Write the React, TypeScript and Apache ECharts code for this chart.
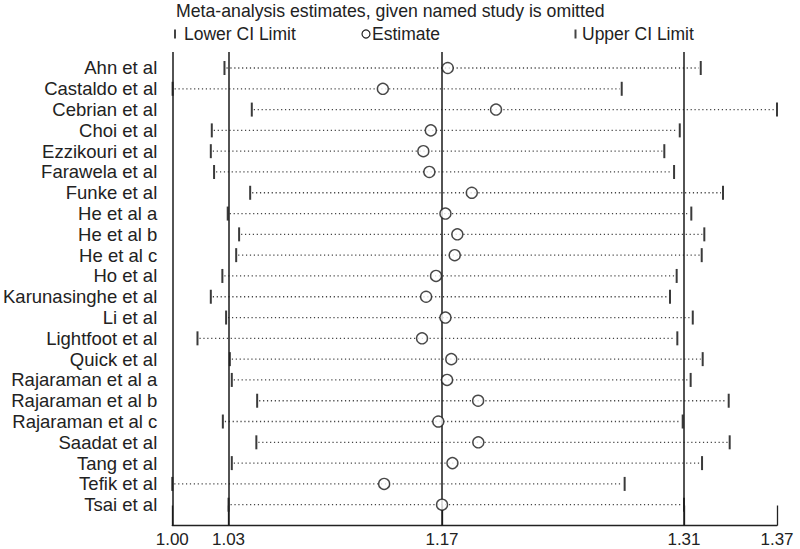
import React, { useEffect, useRef } from "react";
import * as echarts from "echarts";

const studies = [
  "Ahn et al", "Castaldo et al", "Cebrian et al", "Choi et al", "Ezzikouri et al",
  "Farawela et al", "Funke et al", "He et al a", "He et al b", "He et al c",
  "Ho et al", "Karunasinghe et al", "Li et al", "Lightfoot et al", "Quick et al",
  "Rajaraman et al a", "Rajaraman et al b", "Rajaraman et al c", "Saadat et al",
  "Tang et al", "Tefik et al", "Tsai et al",
];

const lowerCI = [
  1.0317, 0.9998, 1.0485, 1.0239, 1.0233, 1.0253, 1.0475, 1.0337, 1.0407, 1.0389,
  1.0304, 1.0233, 1.0327, 1.0151, 1.0350, 1.0362, 1.0518, 1.0307, 1.0513, 1.0362,
  0.9996, 1.0342,
];

const estimates = [
  1.1690, 1.1291, 1.1987, 1.1586, 1.1540, 1.1577, 1.1838, 1.1676, 1.1749, 1.1733,
  1.1618, 1.1557, 1.1676, 1.1532, 1.1712, 1.1686, 1.1877, 1.1632, 1.1878, 1.1719,
  1.1299, 1.1655,
];

const upperCI = [
  1.3246, 1.2760, 1.3715, 1.3117, 1.3022, 1.3082, 1.3383, 1.3188, 1.3268, 1.3252,
  1.3098, 1.3057, 1.3197, 1.3102, 1.3258, 1.3184, 1.3418, 1.3135, 1.3424, 1.3254,
  1.2778, 1.3143,
];

// overall: min lower, overall lower CI, overall estimate, overall upper CI, max upper
const tickValues = [0.9996, 1.0342, 1.1655, 1.3143, 1.3715];
const tickLabels = ["1.00", "1.03", "1.17", "1.31", "1.37"];
const refLines = [0.9996, 1.0342, 1.1655, 1.3143];

const titleText = "Meta-analysis estimates, given named study is omitted";
const legendLabels = ["Lower CI Limit", "Estimate", "Upper CI Limit"];

const FONT = "'Liberation Sans', Arial, Helvetica, sans-serif";
const TXT = "#222";

export default function App() {
  const ref = useRef<HTMLDivElement>(null);

  useEffect(() => {
    document.body.style.margin = "0";
    if (!ref.current) return;
    const chart = echarts.init(ref.current, null, { renderer: "svg" });

    const ciData = studies.map((_, i) => [lowerCI[i], upperCI[i], i]);
    const estData = studies.map((_, i) => [estimates[i], i]);

    const option: any = {
      animation: false,
      backgroundColor: "#fff",
      textStyle: { fontFamily: FONT },
      grid: { left: 172, right: 23, top: 47.2, bottom: 23.5, containLabel: false },
      xAxis: {
        type: "value",
        position: "bottom",
        min: tickValues[0],
        max: tickValues[tickValues.length - 1],
        splitLine: { show: false },
        axisLine: { show: true, onZero: false, lineStyle: { color: "#222", width: 1.3 } },
        axisTick: {
          show: true,
          inside: true,
          length: 20,
          customValues: tickValues,
          lineStyle: { color: "#222", width: 1.3 },
        },
        axisLabel: {
          customValues: tickValues,
          formatter: (v: number) => {
            const k = tickValues.findIndex((t) => Math.abs(t - v) < 1e-6);
            return k >= 0 ? tickLabels[k] : "";
          },
          fontSize: 17,
          color: TXT,
          fontFamily: FONT,
          margin: 5,
          showMinLabel: true,
          showMaxLabel: true,
        },
      },
      yAxis: {
        type: "value",
        inverse: true,
        min: -1,
        max: 22,
        interval: 1,
        splitLine: { show: false },
        axisLine: { show: false, onZero: false },
        axisTick: { show: false },
        axisLabel: {
          formatter: (v: number) => (v >= 0 && v < studies.length ? studies[v] : ""),
          fontSize: 18.5,
          color: TXT,
          fontFamily: FONT,
          margin: 15,
        },
      },
      series: [
        {
          type: "custom",
          name: "ci",
          data: ciData,
          encode: { x: [0, 1], y: 2 },
          z: 2,
          renderItem: (params: any, api: any) => {
            const lo = api.coord([api.value(0), api.value(2)]);
            const hi = api.coord([api.value(1), api.value(2)]);
            return {
              type: "group",
              children: [
                {
                  type: "line",
                  shape: { x1: lo[0] + 2, y1: lo[1], x2: hi[0] - 2, y2: hi[1] },
                  style: { stroke: "#444", lineWidth: 1.3, lineDash: [1.2, 2.7] },
                },
                {
                  type: "rect",
                  shape: { x: lo[0] - 1, y: lo[1] - 7, width: 2, height: 14 },
                  style: { fill: "#3a3a3a" },
                },
                {
                  type: "rect",
                  shape: { x: hi[0] - 1, y: hi[1] - 7, width: 2, height: 14 },
                  style: { fill: "#3a3a3a" },
                },
              ],
            };
          },
        },
        {
          type: "scatter",
          name: "Estimate",
          data: estData,
          symbol: "circle",
          symbolSize: 11,
          z: 4,
          itemStyle: { color: "#fff", borderColor: "#1a1a1a", borderWidth: 1.4 },
          markLine: {
            silent: true,
            symbol: "none",
            z: 3,
            label: { show: false },
            lineStyle: { color: "#1a1a1a", width: 1.5, type: "solid" },
            data: refLines.map((v) => [{ coord: [v, -0.77] }, { coord: [v, 22] }]),
          },
        },
      ],
      graphic: [
        {
          type: "text",
          left: 176,
          top: 2,
          style: { text: titleText, font: `17.7px ${FONT}`, fill: TXT },
        },
        {
          type: "rect",
          shape: { x: 174, y: 29.5, width: 2, height: 9 },
          style: { fill: "#444" },
        },
        {
          type: "text",
          left: 184,
          top: 25,
          style: { text: legendLabels[0], font: `17.5px ${FONT}`, fill: TXT },
        },
        {
          type: "circle",
          shape: { cx: 366, cy: 34, r: 4 },
          style: { fill: "none", stroke: "#222", lineWidth: 1.2 },
        },
        {
          type: "text",
          left: 372,
          top: 25,
          style: { text: legendLabels[1], font: `17.5px ${FONT}`, fill: TXT },
        },
        {
          type: "rect",
          shape: { x: 574.5, y: 29.5, width: 2, height: 9 },
          style: { fill: "#444" },
        },
        {
          type: "text",
          left: 582,
          top: 25,
          style: { text: legendLabels[2], font: `17.5px ${FONT}`, fill: TXT },
        },
      ],
    };

    chart.setOption(option);
    return () => chart.dispose();
  }, []);

  return (
    <div
      ref={ref}
      style={{ position: "absolute", left: 0, top: 0, width: 800, height: 549 }}
    />
  );
}
